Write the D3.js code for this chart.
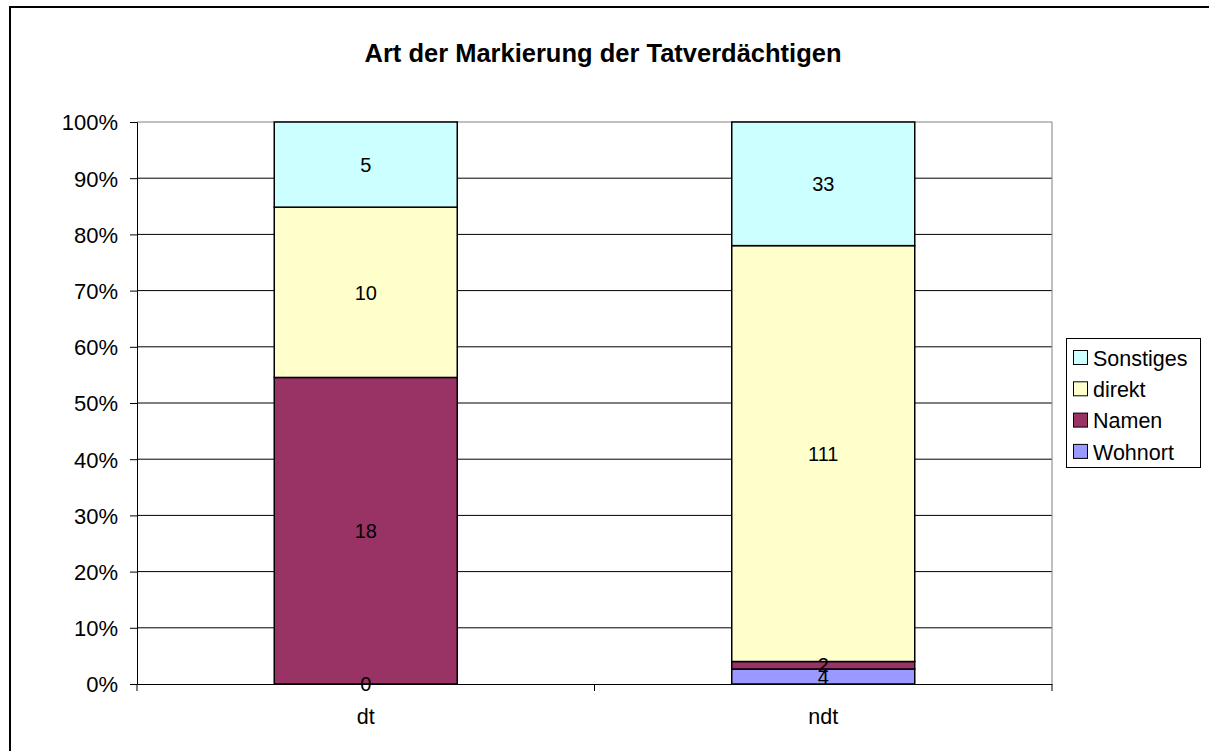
<!DOCTYPE html>
<html>
<head>
<meta charset="utf-8">
<script src="https://cdn.jsdelivr.net/npm/d3@7"></script>
<style>
  body { margin: 0; background: #fff; }
  svg { display: block; font-family: "Liberation Sans", Arial, sans-serif; }
</style>
</head>
<body>
<svg id="chart" width="1209" height="751"></svg>
<script>
const categories = ["dt", "ndt"];
const seriesNames = ["Wohnort", "Namen", "direkt", "Sonstiges"];
const wohnort = [0, 4];
const namen = [18, 2];
const direkt = [10, 111];
const sonstiges = [5, 33];
const yTicks = [0, 0.1, 0.2, 0.3, 0.4, 0.5, 0.6, 0.7, 0.8, 0.9, 1];
const colors = ["#9999ff", "#993366", "#ffffcc", "#ccffff"];

const width = 1209, height = 751;
const margin = {top: 122, right: 157, bottom: 67, left: 137};
const svg = d3.select("#chart");

// outer chart frame (right and bottom fall off the picture)
svg.append("rect")
    .attr("x", 10).attr("y", 7)
    .attr("width", width + 20).attr("height", height + 20)
    .attr("fill", "none").attr("stroke", "#000").attr("stroke-width", 2);

svg.append("text")
    .attr("x", 603).attr("y", 62)
    .attr("text-anchor", "middle")
    .attr("font-size", 25.5).attr("font-weight", "bold")
    .text("Art der Markierung der Tatverdächtigen");

const rows = categories.map((c, i) => ({
    cat: c,
    Wohnort: wohnort[i], Namen: namen[i], direkt: direkt[i], Sonstiges: sonstiges[i]
}));

const stacked = d3.stack()
    .keys(seriesNames)
    .offset(d3.stackOffsetExpand)(rows);

const x = d3.scaleBand()
    .domain(categories)
    .range([margin.left, width - margin.right])
    .paddingInner(0.6)
    .paddingOuter(0.3);

const y = d3.scaleLinear()
    .domain([0, 1])
    .range([height - margin.bottom, margin.top]);

const color = d3.scaleOrdinal().domain(seriesNames).range(colors);

// gridlines
svg.append("g")
    .selectAll("line")
    .data(yTicks.slice(1))
    .join("line")
    .attr("x1", margin.left).attr("x2", width - margin.right)
    .attr("y1", d => y(d)).attr("y2", d => y(d))
    .attr("stroke", d => d === 1 ? "#808080" : "#000")
    .attr("stroke-width", 1);

// right border of plot area
svg.append("line")
    .attr("x1", width - margin.right).attr("x2", width - margin.right)
    .attr("y1", margin.top).attr("y2", height - margin.bottom)
    .attr("stroke", "#808080");

// bars
const layers = svg.append("g")
    .selectAll("g")
    .data(stacked)
    .join("g")
    .attr("fill", d => color(d.key));

layers.selectAll("rect")
    .data(d => d)
    .join("rect")
    .attr("x", d => x(d.data.cat))
    .attr("width", x.bandwidth())
    .attr("y", d => y(d[1]))
    .attr("height", d => y(d[0]) - y(d[1]))
    .attr("stroke", "#000")
    .attr("stroke-width", 1.5);

// data labels
svg.append("g")
    .selectAll("g")
    .data(stacked)
    .join("g")
    .selectAll("text")
    .data(d => d.map(p => ({p, key: d.key})))
    .join("text")
    .attr("x", d => x(d.p.data.cat) + x.bandwidth() / 2)
    .attr("y", d => y((d.p[0] + d.p[1]) / 2))
    .attr("dy", "0.36em")
    .attr("text-anchor", "middle")
    .attr("font-size", 20)
    .text(d => d.p.data[d.key]);

// y axis
const yAxis = svg.append("g")
    .attr("transform", `translate(${margin.left},0)`)
    .call(d3.axisLeft(y).tickValues(yTicks).tickFormat(d3.format(".0%")).tickSize(7).tickPadding(12));
yAxis.selectAll("text").attr("font-size", 22).attr("fill", "#000").attr("dy", "0.36em");
yAxis.select(".domain").attr("stroke", "#000");
yAxis.selectAll(".tick line").attr("stroke", "#000");
yAxis.attr("font-family", null);

// x axis
const xAxis = svg.append("g")
    .attr("transform", `translate(0,${height - margin.bottom})`)
    .call(d3.axisBottom(x).tickSize(0).tickPadding(25));
xAxis.select(".domain").attr("stroke", "#000");
xAxis.selectAll("text").attr("font-size", 21.5).attr("fill", "#000");
xAxis.attr("font-family", null);

const bounds = [margin.left].concat(categories.map(c => x(c) - x.step() * x.paddingInner() / 2 + x.step()));
xAxis.selectAll(".sep")
    .data(bounds)
    .join("line")
    .attr("class", "sep")
    .attr("x1", d => d).attr("x2", d => d)
    .attr("y1", 0).attr("y2", 7)
    .attr("stroke", "#000");

// legend
const legend = svg.append("g");
legend.append("rect")
    .attr("x", 1066.5).attr("y", 338.5)
    .attr("width", 134).attr("height", 129)
    .attr("fill", "#fff").attr("stroke", "#000");

const items = legend.selectAll("g")
    .data(seriesNames.slice().reverse())
    .join("g")
    .attr("transform", (d, i) => `translate(1073,${358 + i * 31.3})`);

items.append("rect")
    .attr("x", 0.5).attr("y", -7.5)
    .attr("width", 14).attr("height", 14)
    .attr("fill", d => color(d))
    .attr("stroke", "#000");

items.append("text")
    .attr("x", 20).attr("y", 0)
    .attr("dy", "0.36em")
    .attr("font-size", 21.5)
    .text(d => d);
</script>
</body>
</html>
